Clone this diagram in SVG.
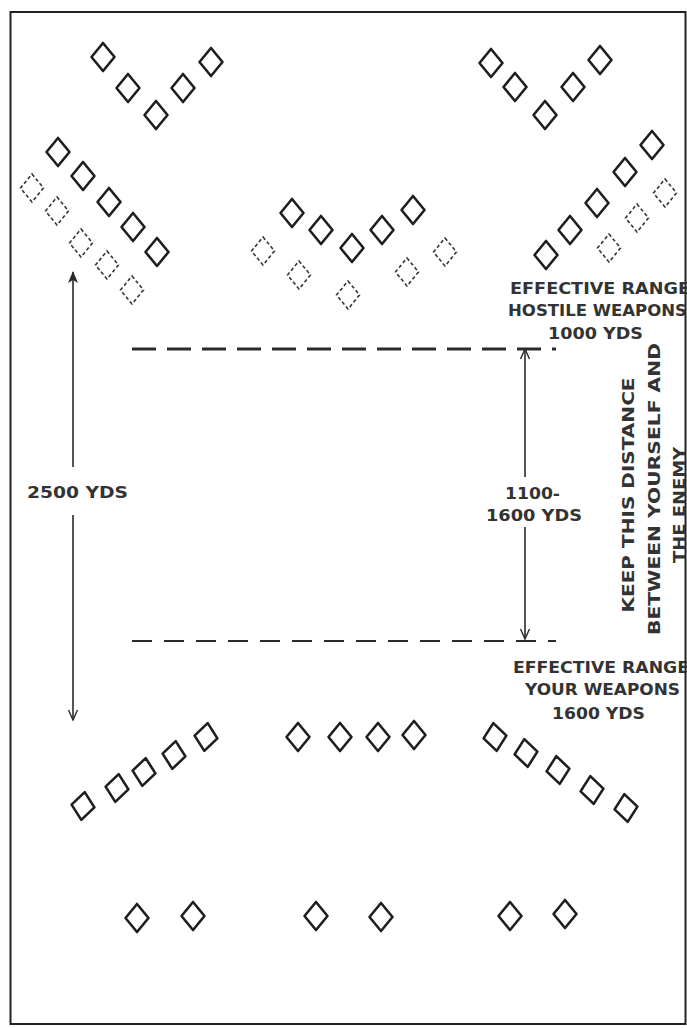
<svg xmlns="http://www.w3.org/2000/svg" xmlns:xlink="http://www.w3.org/1999/xlink" width="687" height="1028" viewBox="0 0 687 1028">
<style>
.d{fill:none;stroke:#1e1e1e;stroke-width:2.6;stroke-linejoin:round}
.dd{fill:none;stroke:#333;stroke-width:1.6;stroke-dasharray:3.5 2.5}
.t{font-family:"DejaVu Sans","Liberation Sans",sans-serif;font-size:16px;font-weight:bold;fill:#333}
.rl{fill:none;stroke:#2a2a2a}
.ar{fill:none;stroke:#2a2a2a;stroke-width:1.6}
</style>
<defs>
<path id="dia" d="M0,-14 L11.5,0 L0,14 L-11.5,0 Z"/>
<marker id="open" viewBox="0 0 12 12" refX="11" refY="6" markerWidth="12" markerHeight="12" markerUnits="userSpaceOnUse" orient="auto">
<path d="M1,1.5 L11,6 L1,10.5" fill="none" stroke="#2a2a2a" stroke-width="1.4"/>
</marker>
<marker id="solid" viewBox="0 0 12 12" refX="11" refY="6" markerWidth="12" markerHeight="12" markerUnits="userSpaceOnUse" orient="auto">
<path d="M0,1 L12,6 L0,11 L3,6 Z" fill="#2a2a2a"/>
</marker>
</defs>
<rect x="0" y="0" width="687" height="1028" fill="#fff"/>
<rect id="frame" x="10.5" y="12" width="675" height="1012" fill="none" stroke="#222" stroke-width="2"/>

<g id="enemy-top-left-v" class="d">
<use xlink:href="#dia" x="103" y="57"/>
<use xlink:href="#dia" x="128" y="88"/>
<use xlink:href="#dia" x="156" y="115"/>
<use xlink:href="#dia" x="183" y="88"/>
<use xlink:href="#dia" x="211" y="62"/>
</g>
<g id="enemy-top-right-v" class="d">
<use xlink:href="#dia" x="491" y="63"/>
<use xlink:href="#dia" x="515" y="87"/>
<use xlink:href="#dia" x="545" y="115"/>
<use xlink:href="#dia" x="573" y="87"/>
<use xlink:href="#dia" x="600" y="60"/>
</g>
<g id="enemy-left-echelon" class="d">
<use xlink:href="#dia" x="58" y="152"/>
<use xlink:href="#dia" x="83" y="176"/>
<use xlink:href="#dia" x="109" y="202"/>
<use xlink:href="#dia" x="133" y="227"/>
<use xlink:href="#dia" x="157" y="252"/>
</g>
<g id="enemy-left-echelon-moving" class="dd">
<use xlink:href="#dia" x="32" y="188"/>
<use xlink:href="#dia" x="57" y="211"/>
<use xlink:href="#dia" x="81" y="243"/>
<use xlink:href="#dia" x="107" y="265"/>
<use xlink:href="#dia" x="132" y="290"/>
</g>
<g id="enemy-center" class="d">
<use xlink:href="#dia" x="292" y="213"/>
<use xlink:href="#dia" x="321" y="230"/>
<use xlink:href="#dia" x="352" y="248"/>
<use xlink:href="#dia" x="382" y="230"/>
<use xlink:href="#dia" x="413" y="210"/>
</g>
<g id="enemy-center-moving" class="dd">
<use xlink:href="#dia" x="263" y="251"/>
<use xlink:href="#dia" x="299" y="275"/>
<use xlink:href="#dia" x="348" y="295"/>
<use xlink:href="#dia" x="407" y="272"/>
<use xlink:href="#dia" x="445" y="252"/>
</g>
<g id="enemy-right-echelon" class="d">
<use xlink:href="#dia" x="546" y="255"/>
<use xlink:href="#dia" x="570" y="230"/>
<use xlink:href="#dia" x="597" y="203"/>
<use xlink:href="#dia" x="625" y="172"/>
<use xlink:href="#dia" x="652" y="145"/>
</g>
<g id="enemy-right-echelon-moving" class="dd">
<use xlink:href="#dia" x="609" y="248"/>
<use xlink:href="#dia" x="637" y="218"/>
<use xlink:href="#dia" x="665" y="193"/>
</g>

<g id="range-lines">
<line class="rl" x1="132" y1="349" x2="556" y2="349" stroke-width="3" stroke-dasharray="24 11"/>
<line class="rl" x1="132" y1="641" x2="556" y2="641" stroke-width="2" stroke-dasharray="20 12"/>
</g>

<g id="connectors">
<line class="ar" x1="73" y1="467" x2="73" y2="272" marker-end="url(#solid)"/>
<line class="ar" x1="73" y1="515" x2="73" y2="720" marker-end="url(#open)"/>
<line class="ar" x1="525" y1="477" x2="525" y2="349" marker-end="url(#open)"/>
<line class="ar" x1="525" y1="527" x2="525" y2="639" marker-end="url(#open)"/>
</g>

<g id="labels">
<text class="t" x="510" y="294" textLength="180" lengthAdjust="spacingAndGlyphs">EFFECTIVE RANGE</text>
<text class="t" x="508" y="316" textLength="179" lengthAdjust="spacingAndGlyphs">HOSTILE WEAPONS</text>
<text class="t" x="548" y="339" textLength="95" lengthAdjust="spacingAndGlyphs">1000 YDS</text>
<text class="t" x="27" y="498" textLength="101" lengthAdjust="spacingAndGlyphs">2500 YDS</text>
<text class="t" x="505" y="499" textLength="55" lengthAdjust="spacingAndGlyphs">1100-</text>
<text class="t" x="486" y="521" textLength="96" lengthAdjust="spacingAndGlyphs">1600 YDS</text>
<text class="t" x="513" y="673" textLength="176" lengthAdjust="spacingAndGlyphs">EFFECTIVE RANGE</text>
<text class="t" x="525" y="695" textLength="155" lengthAdjust="spacingAndGlyphs">YOUR WEAPONS</text>
<text class="t" x="552" y="719" textLength="93" lengthAdjust="spacingAndGlyphs">1600 YDS</text>
<text class="t" transform="translate(634,495) rotate(-90)" x="0" y="0" text-anchor="middle" textLength="235" lengthAdjust="spacingAndGlyphs">KEEP THIS DISTANCE</text>
<text class="t" transform="translate(660,489) rotate(-90)" x="0" y="0" text-anchor="middle" textLength="292" lengthAdjust="spacingAndGlyphs">BETWEEN YOURSELF AND</text>
<text class="t" transform="translate(685,505) rotate(-90)" x="0" y="0" text-anchor="middle" textLength="116" lengthAdjust="spacingAndGlyphs">THE ENEMY</text>
</g>

<g id="own-left-echelon" class="d">
<use xlink:href="#dia" transform="translate(83,806) rotate(7)"/>
<use xlink:href="#dia" transform="translate(117,788) rotate(7)"/>
<use xlink:href="#dia" transform="translate(144,772) rotate(7)"/>
<use xlink:href="#dia" transform="translate(174,755) rotate(7)"/>
<use xlink:href="#dia" transform="translate(206,737) rotate(7)"/>
</g>
<g id="own-center-line" class="d">
<use xlink:href="#dia" x="298" y="737"/>
<use xlink:href="#dia" x="340" y="737"/>
<use xlink:href="#dia" x="378" y="737"/>
<use xlink:href="#dia" x="414" y="735"/>
</g>
<g id="own-right-echelon" class="d">
<use xlink:href="#dia" transform="translate(495,737) rotate(-7)"/>
<use xlink:href="#dia" transform="translate(526,753) rotate(-7)"/>
<use xlink:href="#dia" transform="translate(558,770) rotate(-7)"/>
<use xlink:href="#dia" transform="translate(592,790) rotate(-7)"/>
<use xlink:href="#dia" transform="translate(626,808) rotate(-7)"/>
</g>
<g id="own-rear" class="d">
<use xlink:href="#dia" x="137" y="918"/>
<use xlink:href="#dia" x="193" y="916"/>
<use xlink:href="#dia" x="316" y="916"/>
<use xlink:href="#dia" x="381" y="917"/>
<use xlink:href="#dia" x="510" y="916"/>
<use xlink:href="#dia" x="565" y="914"/>
</g>
</svg>
